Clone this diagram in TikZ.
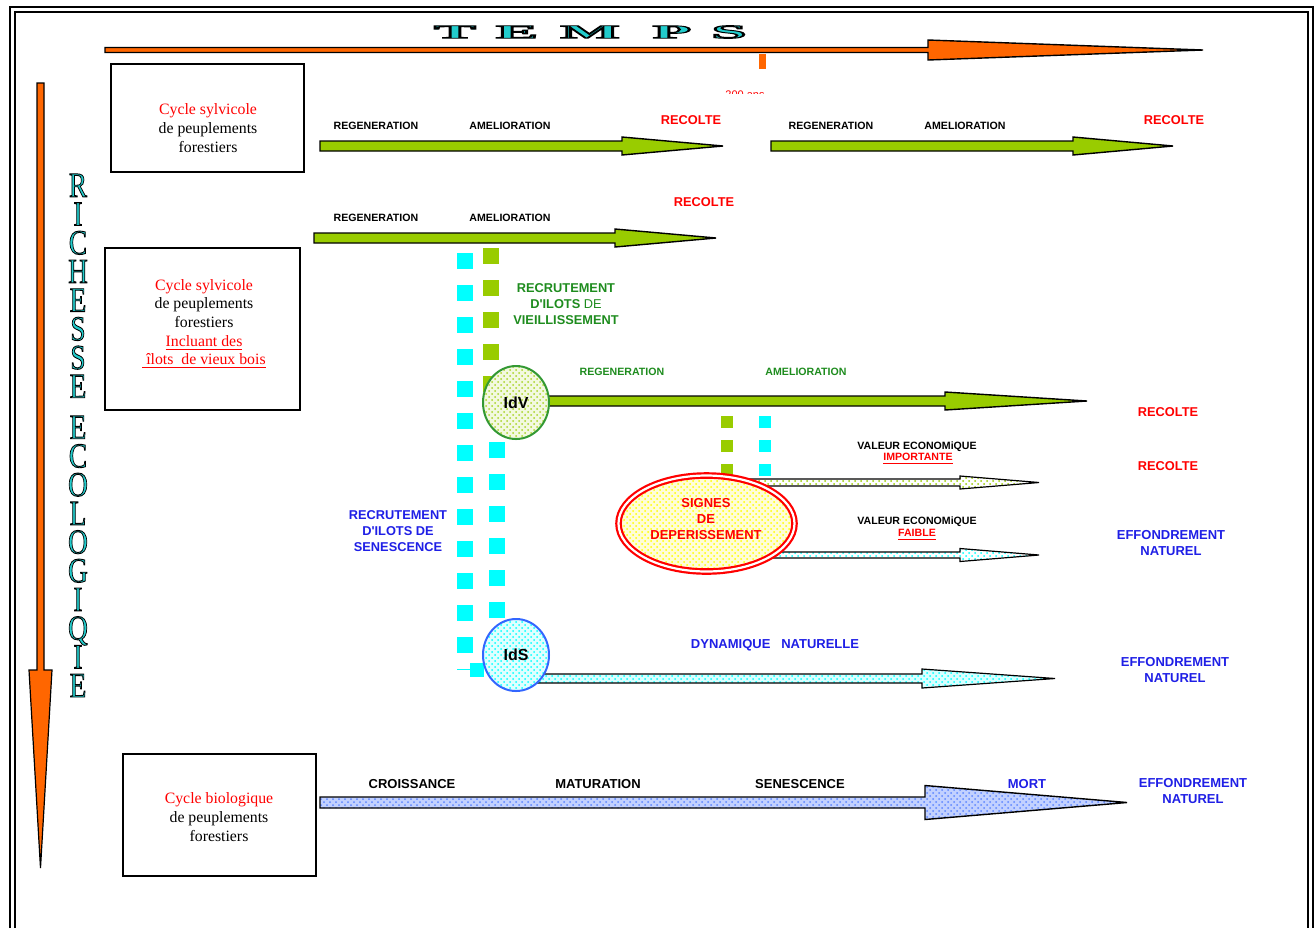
\documentclass[tikz,border=0pt]{standalone}
\usepackage{fontspec}
\setmainfont{Liberation Serif}
\newfontfamily\lab{Liberation Sans}
\usetikzlibrary{patterns,shapes.geometric}
\definecolor{orng}{HTML}{FF6600}
\definecolor{grn}{HTML}{99CC00}
\definecolor{dgrn}{HTML}{1E8C1E}
\definecolor{blu}{HTML}{1F1FE6}
\definecolor{rd}{HTML}{FF0000}
\definecolor{cyn}{HTML}{00FFFF}
\definecolor{idvg}{HTML}{339933}
\definecolor{idsb}{HTML}{3366FF}
\definecolor{ttl}{HTML}{22CCCC}
\newcommand\blockarrow[7]{\path[#1] (#2,{#5-#6}) -- (#3,{#5-#6}) -- (#3,{#5-#7}) -- (#4,#5) -- (#3,{#5+#7}) -- (#3,{#5+#6}) -- (#2,{#5+#6}) -- cycle;}
\newcommand\outlined[2]{\special{pdf:literal 2 Tr 0 G #1 w}#2\special{pdf:literal 0 Tr}}
\newcommand\fancyletter[7]{% name, x, y, letter, size, xscale, weight
  \node[inner sep=0pt,font=\fontsize{#5}{#5}\selectfont#7,text=ttl] (#1) at (#2,#3) {\scalebox{#6}[1]{\outlined{0.45}{#4}}};}
\newcommand\vl[1]{\scalebox{0.78}[1]{\outlined{0.45}{#1}}}
\tikzset{
  frame/.style={line width=1pt,black},
  box/.style={draw=black,line width=0.8pt,inner sep=0pt},
  boxtxt/.style={align=center,font=\fontsize{7.9}{9.3}\selectfont,inner sep=0pt},
  sm/.style={font=\lab\bfseries\fontsize{5.3}{6}\selectfont,inner sep=0pt},
  rec/.style={font=\lab\bfseries\fontsize{6.4}{8}\selectfont,text=rd,inner sep=0pt},
  mid/.style={font=\lab\bfseries\fontsize{6.5}{8}\selectfont,inner sep=0pt,align=center},
  garrow/.style={draw=black,line width=0.7pt,fill=grn},
  sqc/.style={fill=cyn},
  sqg/.style={fill=grn},
  patgreen/.style={preaction={fill=white}, pattern=crosshatch dots, pattern color=grn},
  patcyan/.style={preaction={fill=white}, pattern=crosshatch dots, pattern color=cyn},
}
\begin{document}
\begin{tikzpicture}[x=0.5pt,y=-0.5pt]
\useasboundingbox (0,0) rectangle (1316,928);
\fill[white] (0,0) rectangle (1316,928);
% frame
\draw[frame] (10,928) -- (10,7) -- (1313,7) -- (1313,928);
\draw[frame] (15,928) -- (15,12) -- (1308,12) -- (1308,928);
% title TEMPS
\fancyletter{tT}{455}{32}{T}{9.5}{3.3}{\bfseries}
\fancyletter{tE}{517}{32}{E}{9.5}{3.3}{\bfseries}
\fancyletter{tM}{590}{32}{M}{9.5}{3.3}{\bfseries}
\fancyletter{tP}{672}{32}{P}{9.5}{3.3}{\bfseries}
\fancyletter{tS}{729}{32}{S}{9.5}{3.3}{\bfseries}
% time arrow
\blockarrow{draw=black,line width=0.7pt,fill=orng}{105}{928}{1203}{50}{2.5}{10}
\fill[orng] (759,54) rectangle (766,69);
\begin{scope}
\clip (700,80) rectangle (800,93);
\node[font=\lab\fontsize{5.5}{6}\selectfont,text=rd] (ans) at (745,95) {200 ans};
\end{scope}
% vertical arrow
\path[draw=black,line width=0.6pt,fill=orng] (37,83) -- (44,83) -- (44,670) -- (52,670) -- (40.5,868) -- (29,670) -- (37,670) -- cycle;
% RICHESSE ECOLOGIQIE (vertical)
\node[anchor=north,inner sep=0pt,align=center,text=ttl,font=\fontsize{17.5}{14.35}\selectfont] (rich) at (78,173.5)
  {\vl{R}\\\vl{I}\\\vl{C}\\\vl{H}\\\vl{E}\\\vl{S}\\\vl{S}\\\vl{E}\\[6.15pt]\vl{E}\\\vl{C}\\\vl{O}\\\vl{L}\\\vl{O}\\\vl{G}\\\vl{I}\\\vl{Q}\\\vl{I}\\\vl{E}};
% boxes
\node[box,minimum width=96.5pt,minimum height=54pt] (box1) at (207.5,118) {};
\node[boxtxt] (t1) at (208,128) {\textcolor{rd}{Cycle sylvicole}\\de peuplements\\forestiers};
\node[box,minimum width=97.5pt,minimum height=81pt] (box2) at (202.5,329) {};
\node[boxtxt] (t2) at (204,324) {\textcolor{rd}{Cycle sylvicole}\\de peuplements\\forestiers\\\textcolor{rd}{\underline{Incluant des}}\\\textcolor{rd}{\underline{\ îlots\ \ de vieux bois}}};
\node[box,minimum width=96.5pt,minimum height=61pt] (box3) at (219.5,815) {};
\node[boxtxt] (t3) at (219,817) {\textcolor{rd}{Cycle biologique}\\de peuplements\\forestiers};
% green arrows
\blockarrow{garrow}{320}{622}{723}{146}{5}{9}
\blockarrow{garrow}{771}{1073}{1173}{146}{5}{9}
\blockarrow{garrow}{314}{615}{716}{238}{5}{9}
\node[sm] (rg1) at (376,126) {REGENERATION};
\node[sm] (am1) at (510,126) {AMELIORATION};
\node[rec] (rc1) at (691,120) {RECOLTE};
\node[sm] (rg2) at (831,126) {REGENERATION};
\node[sm] (am2) at (965,126) {AMELIORATION};
\node[rec] (rc2) at (1174,120) {RECOLTE};
\node[sm] (rg3) at (376,218) {REGENERATION};
\node[sm] (am3) at (510,218) {AMELIORATION};
\node[rec] (rc3) at (704,202) {RECOLTE};
% squares
\foreach \y in {261,293,...,645} \fill[sqc] (457,\y-8) rectangle ++(16,16);
\fill[sqc] (470,663) rectangle ++(14,14);
\draw[cyn,line width=0.4pt] (457,669) -- (470,669);
\foreach \y in {256,288,...,384} \fill[sqg] (483,\y-8) rectangle ++(16,16);
\foreach \y in {450,482,...,610} \fill[sqc] (489,\y-8) rectangle ++(16,16);
\foreach \y in {422,446,470} {\fill[sqg] (721,\y-6) rectangle ++(12,12); \fill[sqc] (759,\y-6) rectangle ++(12,12);}
% IdV arrow
\blockarrow{garrow}{540}{945}{1087}{401}{5}{9}
\node[sm,text=dgrn] (rg4) at (622,372) {REGENERATION};
\node[sm,text=dgrn] (am4) at (806,372) {AMELIORATION};
\node[rec] (rc4) at (1168,412) {RECOLTE};
% value arrows
\blockarrow{draw=black,line width=0.6pt,patgreen}{740}{960}{1039}{482.5}{3.5}{6.5}
\blockarrow{draw=black,line width=0.6pt,patcyan}{740}{960}{1039}{555}{3}{6.5}
\node[sm] (v1) at (917,447) {VALEUR ECONOMiQUE};
\node[sm,text=rd] (imp) at (918,459) {\underline{IMPORTANTE}};
\node[sm] (v2) at (917,522) {VALEUR ECONOMiQUE};
\node[sm,text=rd] (fai) at (917,535) {\underline{FAIBLE}};
\node[rec] (rc5) at (1168,466) {RECOLTE};
\node[mid,text=blu] (ef1) at (1171,543) {EFFONDREMENT\\NATUREL};
% signes ellipse
\node[ellipse,draw=rd,line width=1.1pt,double=white,double distance=1.1pt,minimum width=88pt,minimum height=48pt,inner sep=0pt,
  preaction={fill=yellow!15},pattern=crosshatch dots,pattern color=yellow] (sig) at (706.5,523.5) {};
\node[mid,text=rd] (sigt) at (706,519.5) {SIGNES\\DE\\DEPERISSEMENT};
% IdS arrow
\blockarrow{draw=black,line width=0.6pt,preaction={fill=cyn!15},pattern=crosshatch dots,pattern color=cyn}{530}{922}{1055}{678.5}{4.5}{9.5}
\node[mid,text=blu] (dyn) at (775,645) {DYNAMIQUE\ \ \ NATURELLE};
\node[mid,text=blu] (ef2) at (1175,670) {EFFONDREMENT\\NATUREL};
% circles
\node[ellipse,draw=idvg,line width=1pt,minimum width=33pt,minimum height=36.5pt,inner sep=0pt,
  preaction={fill=grn!12},pattern=crosshatch dots,pattern color=grn!85,font=\lab\bfseries\fontsize{8}{9}\selectfont] (idv) at (516,402.5) {IdV};
\node[ellipse,draw=idsb,line width=1pt,minimum width=33pt,minimum height=36pt,inner sep=0pt,
  preaction={fill=cyn!12},pattern=crosshatch dots,pattern color=cyn,font=\lab\bfseries\fontsize{8}{9}\selectfont] (ids) at (516,655) {IdS};
% recruitment labels
\node[mid,text=dgrn,font=\lab\bfseries\fontsize{6.4}{8}\selectfont] (rv) at (566,304) {RECRUTEMENT\\D'ILOTS {\mdseries DE}\\VIEILLISSEMENT};
\node[mid,text=blu,font=\lab\bfseries\fontsize{6.4}{8}\selectfont] (rs) at (398,531) {RECRUTEMENT\\D'ILOTS DE\\SENESCENCE};
% biological arrow
\blockarrow{draw=black,line width=0.7pt,preaction={fill=idsb!30},pattern=crosshatch dots,pattern color=idsb!80}{320}{925}{1127}{802.5}{5.5}{17}
\node[mid] (cr) at (412,784) {CROISSANCE};
\node[mid] (ma) at (598,784) {MATURATION};
\node[mid] (se) at (800,784) {SENESCENCE};
\node[mid,text=blu] (mo) at (1027,784) {MORT};
\node[mid,text=blu] (ef3) at (1193,791) {EFFONDREMENT\\NATUREL};
\end{tikzpicture}
\end{document}
